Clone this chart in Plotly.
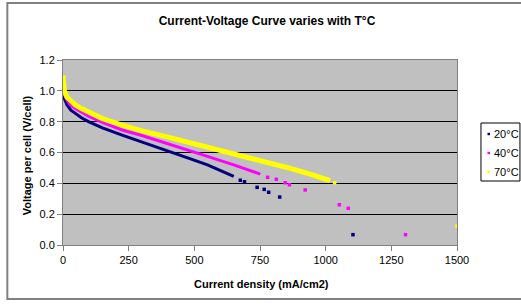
import plotly.graph_objects as go

# ---- data ----
series_names = ["20°C", "40°C", "70°C"]

x20_dense = [0, 5, 15, 30, 47, 70, 97, 150, 225, 300, 351, 420, 480, 550, 600, 650]
y20_dense = [1.0, 0.95, 0.91, 0.875, 0.854, 0.825, 0.80, 0.76, 0.713, 0.67, 0.638, 0.60, 0.562, 0.52, 0.485, 0.445]
x20_sparse = [675, 691, 739, 766, 783, 825, 1104]
y20_sparse = [0.42, 0.41, 0.374, 0.361, 0.342, 0.311, 0.067]

x40_dense = [0, 5, 15, 30, 47, 70, 97, 150, 225, 300, 400, 480, 550, 650, 751]
y40_dense = [1.03, 0.98, 0.94, 0.905, 0.886, 0.86, 0.835, 0.795, 0.746, 0.71, 0.658, 0.612, 0.575, 0.52, 0.46]
x40_sparse = [779, 812, 846, 862, 922, 1052, 1086, 1304]
y40_sparse = [0.439, 0.426, 0.404, 0.391, 0.357, 0.261, 0.238, 0.067]

x70_dense = [0, 5, 15, 30, 47, 70, 97, 150, 225, 300, 400, 480, 560, 650, 750, 866, 950, 979, 1017]
y70_dense = [1.10, 1.0, 0.96, 0.93, 0.908, 0.885, 0.86, 0.82, 0.778, 0.74, 0.70, 0.665, 0.635, 0.595, 0.55, 0.497, 0.455, 0.437, 0.417]
x70_sparse = [1034, 1500]
y70_sparse = [0.404, 0.123]

x_ticks = [0, 250, 500, 750, 1000, 1250, 1500]
y_ticks = [0.0, 0.2, 0.4, 0.6, 0.8, 1.0, 1.2]
y_tick_labels = ["0.0", "0.2", "0.4", "0.6", "0.8", "1.0", "1.2"]

colors = ["#000080", "#FF00FF", "#FFFF00"]
widths = [3, 3, 5]

dense = [(x20_dense, y20_dense), (x40_dense, y40_dense), (x70_dense, y70_dense)]
sparse = [(x20_sparse, y20_sparse), (x40_sparse, y40_sparse), (x70_sparse, y70_sparse)]

fig = go.Figure()
for name, c, w, (dx, dy), (sx, sy) in zip(series_names, colors, widths, dense, sparse):
    fig.add_trace(go.Scatter(x=dx, y=dy, mode="lines", line=dict(color=c, width=w),
                             legendgroup=name, showlegend=False, hoverinfo="skip"))
    fig.add_trace(go.Scatter(x=sx, y=sy, mode="markers", name=name, legendgroup=name,
                             showlegend=False, marker=dict(color=c, size=3.5, symbol="square")))

W, H = 521, 307
L, R, T, B = 62.7, W - 457.0, 60, H - 245
pw, ph = W - L - R, H - T - B

def px_x(p):
    return (p - L) / pw

def px_y(p):
    return (H - B - p) / ph

shapes = [dict(type="rect", xref="paper", yref="paper",
               x0=px_x(7), x1=px_x(530), y0=px_y(299), y1=px_y(3),
               line=dict(color="#808080", width=2), fillcolor="rgba(0,0,0,0)", layer="above"),
          dict(type="rect", xref="paper", yref="paper",
               x0=px_x(481), x1=px_x(520), y0=px_y(181), y1=px_y(123),
               line=dict(color="#000000", width=1), fillcolor="white", layer="above")]
annotations = []
legend_rows = [134, 153, 172]
for name, c, ry in zip(series_names, colors, legend_rows):
    shapes.append(dict(type="rect", xref="paper", yref="paper",
                       x0=px_x(487.5), x1=px_x(490), y0=px_y(ry + 1.2), y1=px_y(ry - 1.2),
                       line=dict(width=0), fillcolor=c, layer="above"))
    annotations.append(dict(text=name, xref="paper", yref="paper", x=px_x(492), y=px_y(ry),
                            xanchor="left", yanchor="middle", showarrow=False,
                            font=dict(size=11, color="#000000")))

# axis titles placed as annotations for exact positions
annotations.append(dict(text="<b>Current density (mA/cm2)</b>", xref="paper", yref="paper",
                        x=px_x(261), y=px_y(284), xanchor="center", yanchor="middle",
                        showarrow=False, font=dict(size=11, color="#000000")))
annotations.append(dict(text="<b>Voltage per cell (V/cell)</b>", xref="paper", yref="paper",
                        x=px_x(27), y=px_y(155), xanchor="center", yanchor="middle",
                        textangle=-90, showarrow=False, font=dict(size=11, color="#000000")))

fig.update_layout(
    width=W, height=H,
    margin=dict(l=L, r=R, t=T, b=B, pad=0, autoexpand=False),
    paper_bgcolor="white",
    plot_bgcolor="#C0C0C0",
    font=dict(family="Liberation Sans, Arial, sans-serif", size=11, color="#000000"),
    title=dict(text="<b>Current-Voltage Curve varies with T°C</b>", x=267 / W, xanchor="center",
               y=1 - 21 / H, yanchor="middle", font=dict(size=12, color="#000000")),
    showlegend=False,
    xaxis=dict(range=[0, 1500], tickvals=x_ticks, ticktext=[str(v) for v in x_ticks],
               showgrid=False, zeroline=False, showline=True, linecolor="#808080", linewidth=1,
               mirror=True, ticks="outside", ticklen=5, tickcolor="#808080", automargin=False),
    yaxis=dict(range=[0, 1.2], tickvals=y_ticks, ticktext=y_tick_labels,
               showgrid=True, gridcolor="#000000", gridwidth=1, zeroline=False,
               showline=True, linecolor="#808080", linewidth=1, mirror=True,
               ticks="outside", ticklen=5, tickcolor="#808080", automargin=False),
    shapes=shapes,
    annotations=annotations,
)

fig.write_html("out.html", config={"displayModeBar": False},
               post_script="document.body.style.margin='0';document.body.style.padding='0';")
